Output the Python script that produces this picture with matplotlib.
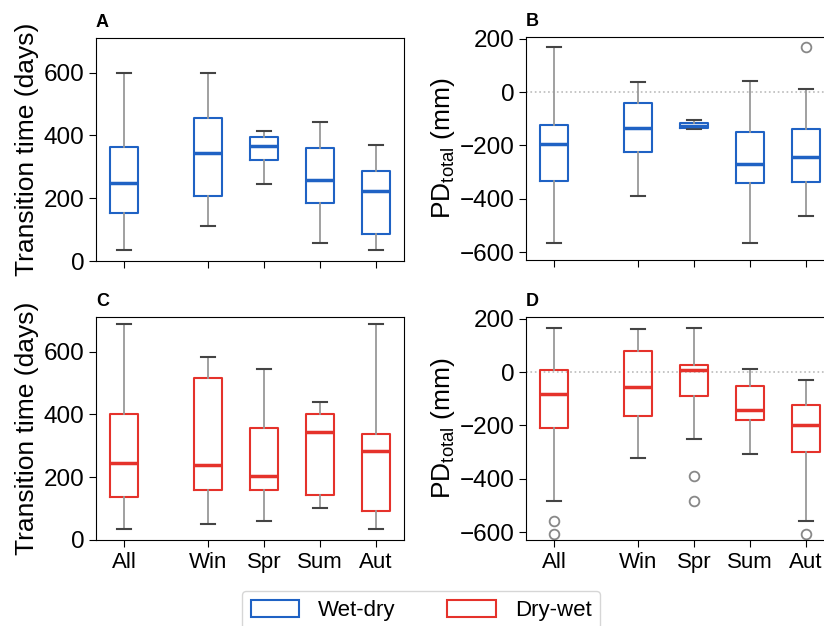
import matplotlib
matplotlib.use('Agg')
import matplotlib.pyplot as plt
from matplotlib.patches import Patch

plt.rcParams['font.family'] = ['Liberation Sans', 'DejaVu Sans']
plt.rcParams['mathtext.fontset'] = 'custom'
plt.rcParams['mathtext.rm'] = 'Liberation Sans'

seasons = ['All', 'Win', 'Spr', 'Sum', 'Aut']
positions = [0, 1.5, 2.5, 3.5, 4.5]

# whisker low, q1, median, q3, whisker high
tt_wetdry_low = [34, 111, 245, 56, 34]
tt_wetdry_q1 = [152, 207, 320, 184, 87]
tt_wetdry_med = [247, 343, 366, 257, 222]
tt_wetdry_q3 = [363, 456, 394, 361, 285]
tt_wetdry_high = [600, 600, 413, 442, 368]
tt_wetdry_fliers = [[], [], [], [], []]

pd_wetdry_low = [-568, -388, -139, -567, -463]
pd_wetdry_q1 = [-334, -225, -135, -342, -337]
pd_wetdry_med = [-195, -136, -127, -271, -245]
pd_wetdry_q3 = [-123, -40, -117, -150, -137]
pd_wetdry_high = [170, 39, -105, 43, 10]
pd_wetdry_fliers = [[], [], [], [], [170]]

tt_drywet_low = [36, 51, 62, 101, 36]
tt_drywet_q1 = [138, 159, 159, 144, 92]
tt_drywet_med = [244, 240, 204, 345, 284]
tt_drywet_q3 = [400, 517, 356, 400, 336]
tt_drywet_high = [689, 583, 544, 440, 689]
tt_drywet_fliers = [[], [], [], [], []]

pd_drywet_low = [-482, -323, -250, -308, -557]
pd_drywet_q1 = [-209, -166, -91, -181, -298]
pd_drywet_med = [-82, -57, 9, -143, -199]
pd_drywet_q3 = [8, 78, 26, -51, -122]
pd_drywet_high = [164, 162, 164, 13, -30]
pd_drywet_fliers = [[-557, -607], [], [-389, -483], [], [-607]]

blue = '#1f62c4'
red = '#e5322b'


def make_stats(low, q1, med, q3, high, fliers):
    out = []
    for i in range(len(low)):
        out.append(dict(whislo=low[i], q1=q1[i], med=med[i], q3=q3[i],
                        whishi=high[i], fliers=fliers[i]))
    return out


def draw(ax, stats, color):
    ax.bxp(stats, positions=positions, widths=0.5, showfliers=True,
           boxprops=dict(color=color, lw=1.5),
           medianprops=dict(color=color, lw=2.5),
           whiskerprops=dict(color='#999999', lw=1.3),
           capprops=dict(color='#444444', lw=1.5),
           flierprops=dict(marker='o', markerfacecolor='none',
                           markeredgecolor='#888888', markersize=7, mew=1.3))
    ax.set_xlim(-0.5, 5.0)
    ax.set_xticks(positions)
    ax.tick_params(axis='x', labelsize=16, length=5)
    ax.tick_params(axis='y', labelsize=17.5, length=5)


fig = plt.figure(figsize=(8.24, 6.26), dpi=100)
w = 308 / 824
h = 223 / 626
axA = fig.add_axes([96 / 824, (626 - 261) / 626, w, h])
axB = fig.add_axes([526 / 824, (626 - 260) / 626, w, h])
axC = fig.add_axes([96 / 824, (626 - 540) / 626, w, h])
axD = fig.add_axes([526 / 824, (626 - 540) / 626, w, h])

draw(axA, make_stats(tt_wetdry_low, tt_wetdry_q1, tt_wetdry_med, tt_wetdry_q3,
                     tt_wetdry_high, tt_wetdry_fliers), blue)
draw(axB, make_stats(pd_wetdry_low, pd_wetdry_q1, pd_wetdry_med, pd_wetdry_q3,
                     pd_wetdry_high, pd_wetdry_fliers), blue)
draw(axC, make_stats(tt_drywet_low, tt_drywet_q1, tt_drywet_med, tt_drywet_q3,
                     tt_drywet_high, tt_drywet_fliers), red)
draw(axD, make_stats(pd_drywet_low, pd_drywet_q1, pd_drywet_med, pd_drywet_q3,
                     pd_drywet_high, pd_drywet_fliers), red)

for ax in [axA, axC]:
    ax.set_ylim(0, 710)
    ax.set_yticks([0, 200, 400, 600])
    ax.set_ylabel('Transition time (days)', fontsize=19, labelpad=3)
for ax in [axB, axD]:
    ax.set_ylim(-630, 207)
    ax.set_yticks([-600, -400, -200, 0, 200])
    ax.axhline(0, color='#bbbbbb', ls=':', lw=1.2, zorder=0)
    ax.set_ylabel('PD$_{\\mathrm{total}}$ (mm)', fontsize=19, labelpad=2)
for ax in [axA, axB]:
    ax.set_xticklabels([])
for ax in [axC, axD]:
    ax.set_xticklabels(seasons)

for ax, lab in zip([axA, axB, axC, axD], ['A', 'B', 'C', 'D']):
    ax.text(0.0, 1.03, lab, transform=ax.transAxes, fontsize=13,
            fontweight='bold', va='bottom', ha='left')

handles = [Patch(facecolor='white', edgecolor=blue, lw=1.5, label='Wet-dry'),
           Patch(facecolor='white', edgecolor=red, lw=1.5, label='Dry-wet')]
fig.legend(handles=handles, loc='upper center', bbox_to_anchor=(0.511, 0.056),
           ncol=2, fontsize=16, handlelength=2.2, handleheight=0.8,
           handletextpad=0.85, columnspacing=2.3, borderaxespad=0,
           frameon=True)

fig.savefig('out.png', dpi=100)
